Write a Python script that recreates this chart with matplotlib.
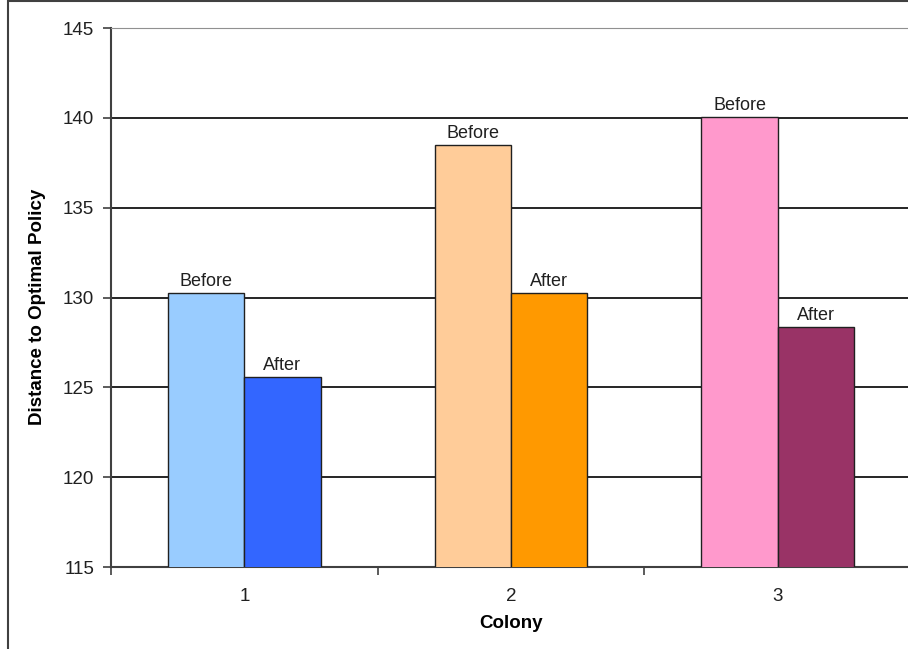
import matplotlib.pyplot as plt
import numpy as np
from matplotlib.patches import Rectangle

plt.rcParams['font.family'] = ['Liberation Sans', 'DejaVu Sans']

colonies = ["1", "2", "3"]
before = [130.25, 138.5, 140.05]
after = [125.6, 130.25, 128.35]
before_colors = ["#99CCFF", "#FFCC99", "#FF99CC"]
after_colors = ["#3366FF", "#FF9900", "#993366"]
yticks = [115, 120, 125, 130, 135, 140, 145]

fig = plt.figure(figsize=(9.08, 6.49), dpi=100)
# chart-area border, runs off the right and bottom edges
fig.patches.append(Rectangle((8 / 908, -0.05), 1.0, 1 - 1 / 649 + 0.05,
                             transform=fig.transFigure, fill=False,
                             edgecolor="#404040", linewidth=1.5, clip_on=False))

ax = fig.add_axes([111 / 908, 1 - 567 / 649, 800 / 908, 539 / 649])

x = np.arange(len(colonies))
w = 1 / 3.5
b1 = ax.bar(x - w / 2, before, w, bottom=0, color=before_colors,
            edgecolor="#202020", linewidth=1, zorder=3)
b2 = ax.bar(x + w / 2, after, w, color=after_colors,
            edgecolor="#202020", linewidth=1, zorder=3)

for rect in b1:
    ax.text(rect.get_x() + rect.get_width() / 2, rect.get_height() + 0.15,
            "Before", ha="center", va="bottom", fontsize=13, color="#202020")
for rect in b2:
    ax.text(rect.get_x() + rect.get_width() / 2, rect.get_height() + 0.15,
            "After", ha="center", va="bottom", fontsize=13, color="#202020")

ax.set_ylim(115, 145)
ax.set_xlim(-0.5, 2.5)
ax.set_yticks(yticks)
ax.yaxis.grid(True, color="black", linewidth=1.2)
ax.set_axisbelow(True)

ax.set_xticks(x)
ax.set_xticklabels(colonies)
ax.set_xticks([-0.5, 0.5, 1.5, 2.5], minor=True)
ax.tick_params(axis="x", which="major", length=0, pad=15, labelsize=13.5,
               labelcolor="#202020")
ax.tick_params(axis="x", which="minor", length=6, width=1.2, color="#404040")
ax.tick_params(axis="y", length=6, width=1.2, color="#404040", pad=6,
               labelsize=13.5, labelcolor="#202020")

for s in ["left", "bottom"]:
    ax.spines[s].set_color("#404040")
    ax.spines[s].set_linewidth(1.5)
ax.spines["top"].set_color("#909090")
ax.spines["right"].set_visible(False)

ax.set_xlabel("Colony", fontsize=13.5, fontweight="bold", labelpad=7)
ax.set_ylabel("Distance to Optimal Policy", fontsize=13.5, fontweight="bold")
ax.yaxis.set_label_coords(-0.081, 0.482)

fig.savefig("out.png", dpi=100)
